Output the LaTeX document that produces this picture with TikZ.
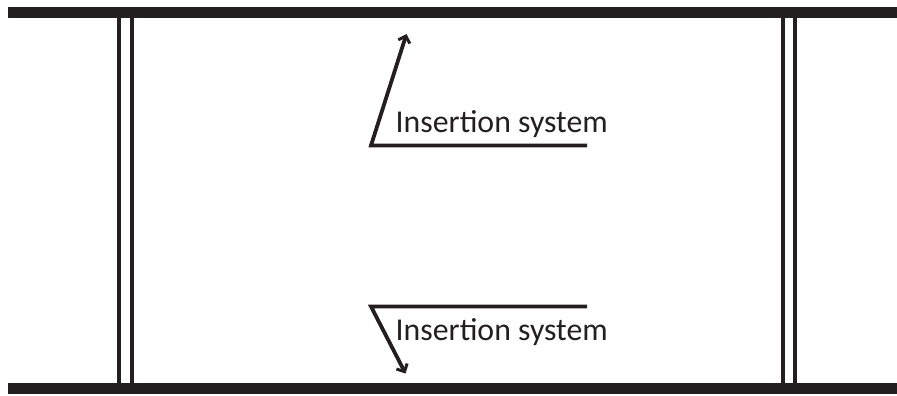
\documentclass[tikz,border=0pt]{standalone}
\usepackage{fontspec}
\setmainfont{Carlito}
\usetikzlibrary{arrows.meta}
\definecolor{ink}{HTML}{231F20}
\tikzset{
  x=1pt,y=-1pt,
  bar/.style={fill=ink,draw=none},
  post/.style={draw=ink,line width=4pt},
  arm/.style={draw=ink,line width=3.8pt,miter limit=10,-{Straight Barb[length=6pt,width=12pt,line width=3pt]}},
  lab/.style={anchor=base west,inner sep=0pt,text=ink,font=\fontsize{31.8}{32}\selectfont}
}
\begin{document}
\begin{tikzpicture}
\useasboundingbox (0,0) rectangle (897,396);
\fill[white] (0,0) rectangle (897,396);
\foreach \x in {119,132,783,795}{
  \draw[post] (\x,12) -- (\x,390);
}
\fill[bar] (8,7) rectangle (897,18);
\fill[bar] (8,383) rectangle (897,394);
\node[lab] (top) at (395.5,132.5) {Insertion system};
\node[lab] (bot) at (395.5,340) {Insertion system};
\coordinate (ta) at (587,145.5);
\coordinate (tb) at (371,145.5);
\coordinate (tc) at (406.5,34);
\coordinate (ba) at (587,306.5);
\coordinate (bb) at (371,306.5);
\coordinate (bc) at (405.5,373.5);
\draw[arm] (ta) -- (tb) -- (tc);
\draw[arm] (ba) -- (bb) -- (bc);
\end{tikzpicture}
\end{document}
